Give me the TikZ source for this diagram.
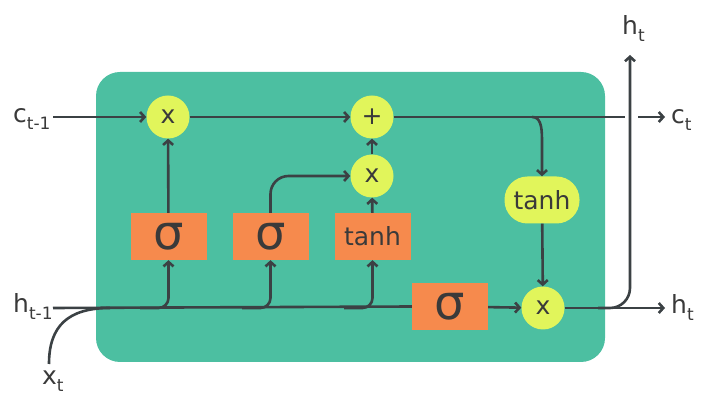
\documentclass[tikz,border=0pt]{standalone}
\usepackage{fontspec}
\setmainfont{DejaVu Sans}
\usetikzlibrary{arrows.meta}
\definecolor{cellteal}{HTML}{4CBFA1}
\definecolor{gateorange}{HTML}{F68A4D}
\definecolor{opyellow}{HTML}{E1F55B}
\definecolor{wirecol}{HTML}{3B4144}
\definecolor{ink}{HTML}{3A3A3A}
\newcommand{\lowsub}[1]{\raisebox{-0.45ex}{\fontsize{17}{17}\selectfont #1}}

\begin{document}
\begin{tikzpicture}[x=1pt,y=-1pt,
  wire/.style={draw=wirecol, line width=2.6pt},
  arr/.style={wire, -{Straight Barb[length=4.5pt,width=10pt]}},
  op/.style={circle, fill=opyellow, minimum size=43pt, inner sep=0pt, text=ink,
    font=\fontsize{25}{25}\selectfont},
  gate/.style={rectangle, fill=gateorange, minimum width=76pt, minimum height=47pt,
    inner sep=0pt, text=ink},
  sig/.style={gate, font=\fontsize{48}{48}\selectfont},
  tanhbox/.style={gate, font=\fontsize{25}{25}\selectfont},
  tanhpill/.style={rectangle, rounded corners=23pt, fill=opyellow, minimum width=75pt,
    minimum height=47pt, inner sep=0pt, text=ink, font=\fontsize{25}{25}\selectfont},
  lbl/.style={text=ink, font=\fontsize{25}{25}\selectfont, inner sep=0pt}
]
\useasboundingbox (0,0) rectangle (713,395);

% cell body
\fill[cellteal, rounded corners=24pt] (96,72) rectangle (605,362);

% pointwise operations
\node[op] (mulf) at (168,117) {x};
\node[op] (add)  at (372,117) {+};
\node[op] (muli) at (372,176) {x};
\node[op] (mulo) at (543,308) {x};

% gate layers
\node[sig]     (sf) at (168.5,236.5) {σ};
\node[sig]     (si) at (270.5,236.5) {σ};
\node[tanhbox] (tg) at (372.5,236.5) {tanh};
\node[sig]     (so) at (450,306.5) {σ};
\node[tanhpill] (tc) at (542,200) {tanh};

% outside labels
\node[lbl, anchor=base west] (cin)  at (13,123) {c\lowsub{t-1}};
\node[lbl, anchor=base west] (hin)  at (13,313) {h\lowsub{t-1}};
\node[lbl, anchor=base west] (xin)  at (42,385) {x\lowsub{t}};
\node[lbl, anchor=base west] (cout) at (671,124) {c\lowsub{t}};
\node[lbl, anchor=base west] (hout) at (671,314) {h\lowsub{t}};
\node[lbl, anchor=base west] (htop) at (622,35) {h\lowsub{t}};

\coordinate (cstart) at (53,117);
\coordinate (hstart) at (53,308);
\coordinate (cgap)   at (625,117);
\coordinate (cresume) at (638,117);
\coordinate (cend)   at (665,117);
\coordinate (hend)   at (665,308);
\coordinate (htip)   at (630,55);

% cell state path
\draw[arr] (cstart) -- (mulf);
\draw[arr] (mulf) -- (add);
\draw[wire] (add.east) -- (cgap);
\draw[arr] (cresume) -- (cend);
\draw[arr] (532,117) .. controls (540,117) and (542,125) .. (542,140) -- (tc.north);
\draw[arr] (tc) -- (mulo);

% gates into the operations
\draw[arr] (sf) -- (mulf);
\draw[arr, rounded corners=18pt] (si.north) |- (muli.west);
\draw[arr] (tg) -- (muli);
\draw[arr] (muli) -- (add);

% hidden state and input
\draw[wire] (hstart) -- (so.west);
\draw[wire] (49,364) .. controls (49,326) and (68,308) .. (110,308);
\draw[arr, rounded corners=10pt] (140,308) -| (sf.south);
\draw[arr, rounded corners=10pt] (242,308) -| (si.south);
\draw[arr, rounded corners=10pt] (344,308) -| (tg.south);
\draw[arr] (so) -- (mulo);

% outputs
\draw[arr] (mulo) -- (hend);
\draw[arr, rounded corners=20pt] (598,308) -| (htip);
\end{tikzpicture}
\end{document}
